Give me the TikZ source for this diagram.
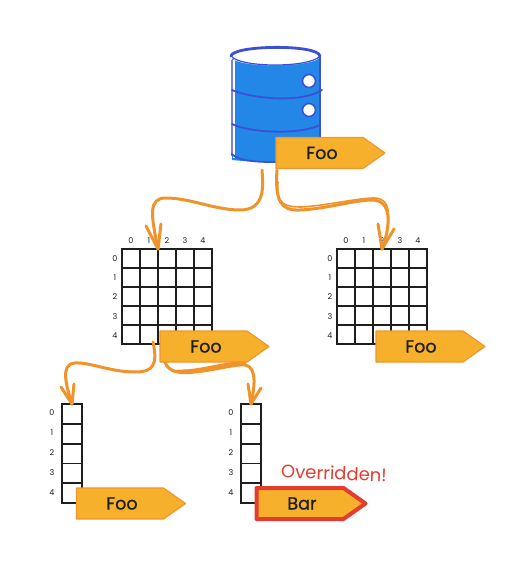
\documentclass[tikz,border=0pt]{standalone}
\usepackage{fontspec}
\setmainfont{Poppins}
\newfontfamily\handfont[FakeBold=0.9]{Poppins}
\definecolor{tagfill}{HTML}{F7B02C}
\definecolor{tagedge}{HTML}{F2952B}
\definecolor{flow}{HTML}{F0932B}
\definecolor{dbblue}{HTML}{2287E6}
\definecolor{dbedge}{HTML}{3A50D8}
\definecolor{redc}{HTML}{E43D30}
\definecolor{ink}{HTML}{1E1E1E}
\tikzset{
  cell/.style={draw=ink,line width=1.6pt,minimum width=18pt,minimum height=19pt,inner sep=0pt,outer sep=0pt},
  idx/.style={font=\fontsize{8}{9}\selectfont,text=ink,inner sep=0pt},
  tagbox/.style={draw=tagedge,fill=tagfill,line width=1.2pt,line join=round},
  taglabel/.style={font=\handfont\fontsize{17.5}{18}\selectfont,text=ink,inner sep=0pt},
  flowline/.style={draw=flow,line width=3pt,line cap=round,line join=round},
  flowthin/.style={draw=flow,line width=1.6pt,line cap=round,line join=round},
  dbline/.style={draw=dbedge,line width=1.8pt,line cap=round},
}
\newcommand{\tagshape}[3][tagbox]{%
  \draw[#1] (#2,#3) -- ++(87,0) -- ++(22,15.5) -- ++(-22,15.5) -- ++(-87,0) -- cycle;}
\begin{document}
\begin{tikzpicture}[x=1pt,y=-1pt]
\useasboundingbox (0,0) rectangle (517,577);
% database
\fill[dbblue] (232,56) -- (232,160) .. controls (260,163) and (295,163) .. (320,158) -- (320,56) -- cycle;
\fill[dbedge!70!white] (231,60) rectangle (233,156);
\fill[white] (233,60) rectangle (235,158);
\fill[white] (231,56) .. controls (231,44) and (320,44) .. (320,56) .. controls (320,68) and (231,69) .. (231,56) -- cycle;
\draw[dbline,line width=2.8pt] (231,56) .. controls (233,45) and (318,44) .. (320,56);
\draw[dbline,line width=1.2pt] (231,56) .. controls (240,68) and (310,68) .. (320,56);
\draw[dbline] (231.5,154) .. controls (240,162) and (262,162) .. (276,162);
\draw[dbline,line width=1.2pt] (320,56) -- (320,138);
\draw[dbline] (232,90) .. controls (250,98) and (300,104) .. (322,90);
\draw[dbline] (232,124) .. controls (250,133) and (300,135) .. (320,125);
\node[circle,draw=dbedge,fill=white,line width=1.6pt,minimum size=13pt,inner sep=0pt] (holeA) at (309,81) {};
\node[circle,draw=dbedge,fill=white,line width=1.6pt,minimum size=13pt,inner sep=0pt] (holeB) at (309,110) {};
\coordinate (dbL) at (262,170);
\coordinate (dbR) at (277,170);
% grids
\foreach \g/\gx in {a/122,b/337}{
  \foreach \c in {0,...,4}{
    \foreach \r in {0,...,4}{
      \node[cell,anchor=north west] (\g-\r-\c) at ({\gx+\c*18},{249+\r*19}) {};
    }
    \node[idx] (\g-col\c) at ({\gx+9+\c*18},241) {\c};
    \node[idx] (\g-row\c) at ({\gx-7},{258.5+\c*19.2}) {\c};
  }
}
% single columns
\foreach \g/\gx in {s/62,t/241}{
  \foreach \r in {0,...,4}{
    \node[cell,anchor=north west,minimum width=20pt,minimum height=20pt] (\g-\r) at (\gx,{404+\r*19.8}) {};
    \node[idx] (\g-row\r) at ({\gx-10},{412.5+\r*20}) {\r};
  }
}
% tags
\tagshape{276}{137.5}
\node[taglabel] (tag1) at (322,153) {Foo};
\tagshape{160}{331}
\node[taglabel] (tag2) at (206,346.5) {Foo};
\tagshape{376}{331}
\node[taglabel] (tag3) at (421,346.5) {Foo};
\tagshape{76.5}{488}
\node[taglabel] (tag4) at (122,503.5) {Foo};
\tagshape[tagbox,draw=redc,line width=4pt]{256.5}{488}
\node[taglabel] (tag5) at (302,503.5) {Bar};
\node[font=\fontsize{18}{19}\selectfont,text=redc,inner sep=0pt,rotate=-2] (over) at (334,473) {Overridden!};
\coordinate (gaL) at (153,342);
\coordinate (tagD) at (165,362);
% connectors
\draw[flowline] (dbL) .. controls (263,185) and (266,210) .. (240,210)
  .. controls (215,210) and (190,198) .. (166,198)
  .. controls (148,198) and (151,215) .. (a-0-2.north west);
\draw[flowline] (a-0-2.north west) -- +(-12,-23);
\draw[flowline] (a-0-2.north west) -- +(3,-25);
\draw[flowline] (dbR) .. controls (275,200) and (280,211) .. (300,210)
  .. controls (325,209) and (355,200) .. (372,200)
  .. controls (392,200) and (391,225) .. (b-0-2.north);
\draw[flowthin] (dbR) ++(1,12) .. controls (276,204) and (284,207) .. (302,207)
  .. controls (330,205) and (358,198) .. (374,198)
  .. controls (395,198) and (389,226) .. (b-0-2.north);
\draw[flowline] (b-0-2.north) -- +(-4,-25);
\draw[flowline] (b-0-2.north) -- +(12,-20);
\draw[flowline] (gaL) .. controls (158,365) and (153,372) .. (135,372)
  .. controls (110,372) and (90,362) .. (75,363)
  .. controls (60,364) and (66,385) .. (s-0.north);
\draw[flowline] (s-0.north) -- +(-11,-17);
\draw[flowline] (s-0.north) -- +(2,-20);
\draw[flowline] (tagD) .. controls (168,372) and (180,374) .. (195,372)
  .. controls (215,370) and (235,364) .. (245,365)
  .. controls (258,367) and (254,390) .. (t-0.north);
\draw[flowline] (tagD) ++(12,9) .. controls (200,372) and (225,362) .. (245,363);
\draw[flowline] (t-0.north) -- +(-3,-20);
\draw[flowline] (t-0.north) -- +(10,-16);
\end{tikzpicture}
\end{document}
